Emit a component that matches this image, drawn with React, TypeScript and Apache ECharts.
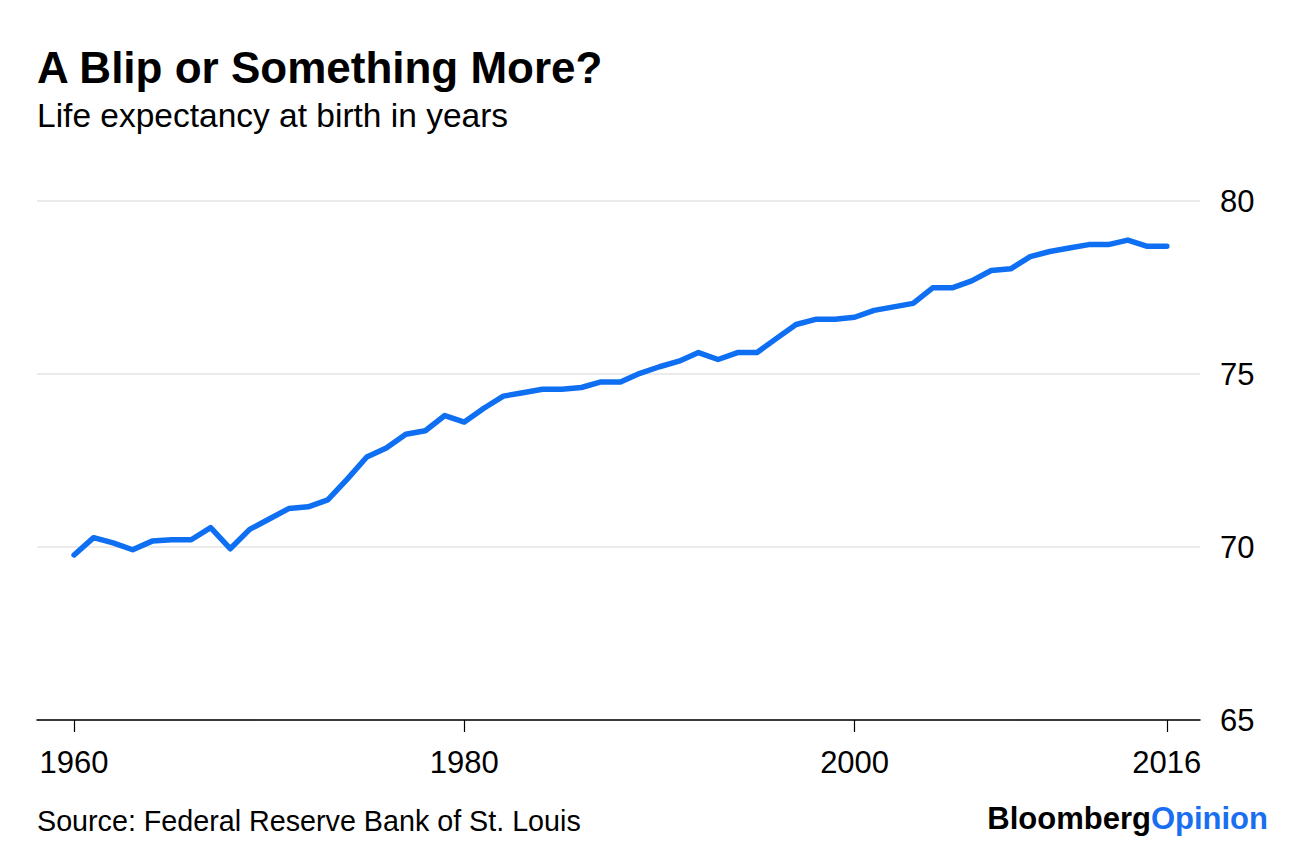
import React, { useEffect, useRef } from "react";
import * as echarts from "echarts";

const years: number[] = [
  1960, 1961, 1962, 1963, 1964, 1965, 1966, 1967, 1968, 1969,
  1970, 1971, 1972, 1973, 1974, 1975, 1976, 1977, 1978, 1979,
  1980, 1981, 1982, 1983, 1984, 1985, 1986, 1987, 1988, 1989,
  1990, 1991, 1992, 1993, 1994, 1995, 1996, 1997, 1998, 1999,
  2000, 2001, 2002, 2003, 2004, 2005, 2006, 2007, 2008, 2009,
  2010, 2011, 2012, 2013, 2014, 2015, 2016,
];

const lifeExpectancy: number[] = [
  69.77, 70.27, 70.12, 69.92, 70.17, 70.21, 70.21, 70.56, 69.95, 70.51,
  70.81, 71.11, 71.16, 71.36, 71.96, 72.6, 72.86, 73.26, 73.36, 73.8,
  73.61, 74.01, 74.36, 74.46, 74.56, 74.56, 74.61, 74.77, 74.77, 75.02,
  75.21, 75.37, 75.62, 75.42, 75.62, 75.62, 76.03, 76.43, 76.58, 76.58,
  76.64, 76.84, 76.94, 77.04, 77.49, 77.49, 77.69, 77.99, 78.04, 78.39,
  78.54, 78.64, 78.74, 78.74, 78.87, 78.69, 78.69,
];

const xTickYears: number[] = [1960, 1980, 2000, 2016];
const yTicks: number[] = [65, 70, 75, 80];

const titleText = "A Blip or Something More?";
const subtitleText = "Life expectancy at birth in years";
const sourceText = "Source: Federal Reserve Bank of St. Louis";

const FONT = "'Liberation Sans', Arial, Helvetica, sans-serif";

export default function App() {
  const ref = useRef<HTMLDivElement>(null);

  useEffect(() => {
    document.body.style.margin = "0";
    if (!ref.current) return;
    const chart = echarts.init(ref.current, null, { renderer: "svg" });
    const data = years.map((y, i) => [y, lifeExpectancy[i]]);

    chart.setOption({
      animation: false,
      backgroundColor: "#ffffff",
      grid: { left: 37, right: 96, top: 201, bottom: 134, containLabel: false },
      xAxis: {
        type: "value",
        min: 1958.1,
        max: 2017.7,
        splitLine: { show: false },
        axisLine: { show: true, lineStyle: { color: "#000", width: 1.5 } },
        axisTick: {
          show: true,
          customValues: xTickYears,
          length: 12,
          lineStyle: { color: "#000", width: 1.2 },
        },
        axisLabel: {
          customValues: xTickYears,
          formatter: (v: number) => String(v),
          color: "#000",
          fontFamily: FONT,
          fontSize: 31,
          margin: 27,
        },
      },
      yAxis: {
        type: "value",
        position: "right",
        min: 65,
        max: 80,
        interval: 5,
        axisLine: { show: false },
        axisTick: { show: false },
        splitLine: { show: true, lineStyle: { color: "#ebebeb", width: 2 } },
        axisLabel: {
          color: "#000",
          fontFamily: FONT,
          fontSize: 31,
          margin: 20,
          formatter: (v: number) => (yTicks.includes(v) ? String(v) : ""),
        },
      },
      series: [
        {
          type: "line",
          data,
          symbol: "none",
          lineStyle: { color: "#0f6ff2", width: 5.5, cap: "round", join: "round" },
          z: 5,
        },
      ],
      graphic: [
        {
          type: "text",
          left: 37,
          top: 45,
          style: {
            text: titleText,
            font: `bold 44px ${FONT}`,
            fill: "#000",
          },
        },
        {
          type: "text",
          left: 37,
          top: 98,
          style: {
            text: subtitleText,
            font: `33.5px ${FONT}`,
            fill: "#000",
          },
        },
        {
          type: "text",
          left: 37,
          top: 806,
          style: {
            text: sourceText,
            font: `28.7px ${FONT}`,
            fill: "#000",
          },
        },
        {
          type: "text",
          right: 28,
          top: 803,
          style: {
            text: "{b|Bloomberg}{o|Opinion}",
            font: `bold 31px ${FONT}`,
            rich: {
              b: { fontFamily: FONT, fontWeight: "bold", fontSize: 31, fill: "#000" },
              o: { fontFamily: FONT, fontWeight: "bold", fontSize: 31, fill: "#1a6ff0" },
            },
          },
        },
      ],
    });

    return () => chart.dispose();
  }, []);

  return <div ref={ref} style={{ width: 1296, height: 854 }} />;
}
